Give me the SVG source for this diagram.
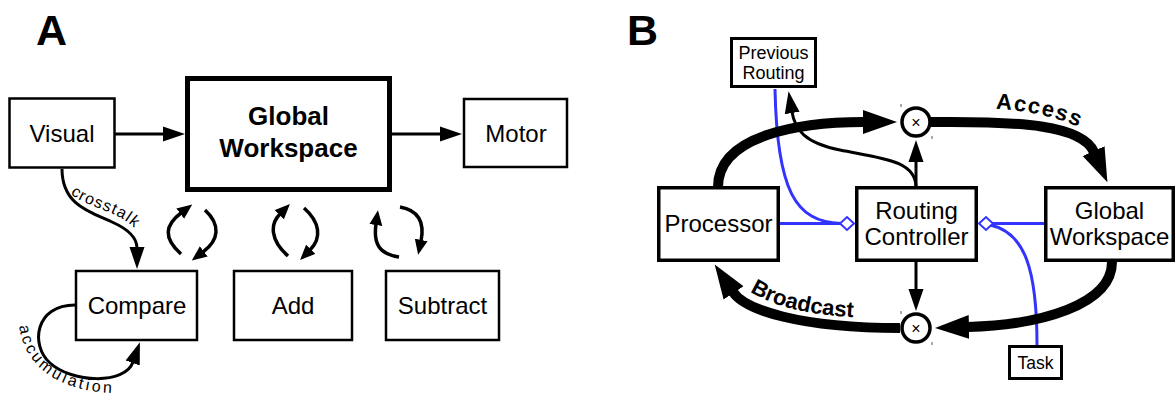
<svg xmlns="http://www.w3.org/2000/svg" width="1176" height="396" viewBox="0 0 1176 396">
  <style>
    .box { fill: #fff; stroke: #000; }
    .a-box { stroke-width: 2.5; }
    .b-box { stroke-width: 3.5; }
    .lbl { font-family: "Liberation Sans", Arial, sans-serif; fill: #000; text-anchor: middle; }
    .panel { font-family: "Liberation Sans", Arial, sans-serif; font-weight: bold; font-size: 43px; }
    .wire { fill: none; stroke: #000; stroke-width: 3; }
    .thick { fill: none; stroke: #000; stroke-width: 10; }
    .blue { fill: none; stroke: #3333ff; stroke-width: 3; }
    .diamond { fill: #fff; stroke: #3333ff; stroke-width: 2; }
    .junction { fill: #fff; stroke: #000; stroke-width: 3.5; }
    .tick { stroke: #555; stroke-width: 1; }
  </style>
  <defs>
    <marker id="big" markerUnits="userSpaceOnUse" markerWidth="36" markerHeight="26" viewBox="0 -13 36 26" refX="1" refY="0" orient="auto">
      <path d="M0,-12 L34,0 L0,12 z" fill="#000"/>
    </marker>
    <marker id="thin" markerUnits="userSpaceOnUse" markerWidth="24" markerHeight="18" viewBox="0 -9 24 18" refX="1" refY="0" orient="auto">
      <path d="M0,-7.5 L22,0 L0,7.5 z" fill="#000"/>
    </marker>
    <marker id="small" markerUnits="userSpaceOnUse" markerWidth="16" markerHeight="14" viewBox="0 -7 16 14" refX="1" refY="0" orient="auto">
      <path d="M0,-6.5 L15,0 L0,6.5 z" fill="#000"/>
    </marker>
    <path id="crosstalk-path" d="M68,192 C80,203 98,207 115,215 C128,221 136,228 144,240"/>
    <path id="accum-path" d="M19,324 C22,362 55,394 122,393 L140,393"/>
    <path id="access-path" d="M995,109 C1025,110 1062,117 1092,134"/>
    <path id="broadcast-path" d="M749,291 C775,308 815,316 866,318"/>
  </defs>

  <!-- panel letters -->
  <text class="panel" x="36" y="45">A</text>
  <text class="panel" x="627" y="45">B</text>

  <!-- ===== Panel A connectors ===== -->
  <g id="connectors-a">
    <path class="wire" d="M115,134 L164,134" marker-end="url(#thin)"/>
    <path class="wire" d="M392,134 L441,134" marker-end="url(#thin)"/>
    <!-- crosstalk -->
    <path class="wire" d="M62,169 C62,205 90,212 112,222 C130,230 137,238 137,248" marker-end="url(#thin)"/>
    <text class="lbl" style="font-size:16px; letter-spacing:1.2px; text-anchor:start"><textPath href="#crosstalk-path" startOffset="3">crosstalk</textPath></text>
    <!-- accumulation loop -->
    <path class="wire" d="M75,305 C35,305 30,345 50,363 C72,383 125,385 133,362" marker-end="url(#thin)"/>
    <text class="lbl" style="font-size:16px; letter-spacing:2.8px; text-anchor:start"><textPath href="#accum-path" startOffset="2">accumulation</textPath></text>
    <!-- exchange arrows between the workspace and the modules -->
    <path class="wire" style="stroke-width:3.5" d="M181,254 C163,238 165,225 181,213" marker-end="url(#small)"/>
    <path class="wire" style="stroke-width:3.5" d="M205,210 C221,225 219,240 203,252" marker-end="url(#small)"/>
    <path class="wire" style="stroke-width:3.5" d="M288,256 C270,240 270,224 280,214" marker-end="url(#small)"/>
    <path class="wire" style="stroke-width:3.5" d="M304,208 C320,222 322,238 310,250" marker-end="url(#small)"/>
    <path class="wire" style="stroke-width:3.5" d="M399,257 C380,254 373,245 376,224" marker-end="url(#small)"/>
    <path class="wire" style="stroke-width:3.5" d="M400,207 C418,210 425,222 421,241" marker-end="url(#small)"/>
  </g>

  <!-- ===== Panel A nodes ===== -->
  <g id="a-visual">
    <rect class="box a-box" x="9.5" y="98.5" width="105" height="69"/>
    <text class="lbl" x="62" y="142" font-size="24">Visual</text>
  </g>
  <g id="a-global-workspace">
    <rect class="box" style="stroke-width:5" x="187.5" y="78.5" width="202" height="111"/>
    <text class="lbl" x="288.5" y="125" font-size="26" font-weight="bold">Global</text>
    <text class="lbl" x="288.5" y="157" font-size="26" font-weight="bold">Workspace</text>
  </g>
  <g id="a-motor">
    <rect class="box a-box" x="464" y="99" width="103" height="68"/>
    <text class="lbl" x="516" y="142" font-size="24">Motor</text>
  </g>
  <g id="a-compare">
    <rect class="box a-box" x="76" y="271" width="121" height="69"/>
    <text class="lbl" x="137" y="314" font-size="24">Compare</text>
  </g>
  <g id="a-add">
    <rect class="box a-box" x="234" y="271" width="118" height="69"/>
    <text class="lbl" x="293" y="314" font-size="24">Add</text>
  </g>
  <g id="a-subtract">
    <rect class="box a-box" x="386" y="271" width="113" height="69"/>
    <text class="lbl" x="442.5" y="314" font-size="24">Subtract</text>
  </g>

  <!-- ===== Panel B connectors ===== -->
  <g id="connectors-b">
    <!-- gating links (blue) -->
    <path class="blue" d="M780,223.5 L841,223.5"/>
    <path class="blue" d="M775,89 C777,190 795,222 841,223.5"/>
    <path class="blue" d="M993,223.5 L1044,223.5"/>
    <path class="blue" d="M990,225 C1025,232 1037,270 1037,345"/>
    <!-- access / broadcast loop -->
    <path class="thick" d="M718,187 C718,135 800,122 864,122" marker-end="url(#big)"/>
    <path class="thick" d="M931,122 C1020,121 1082,125 1094,152" marker-end="url(#big)"/>
    <path class="thick" d="M1112,262 C1112,305 1040,325 968,327" marker-end="url(#big)"/>
    <path class="thick" d="M900,328 C800,328 745,310 733,292" marker-end="url(#big)"/>
    <text class="lbl" style="font-size:22px; font-weight:bold; letter-spacing:1.5px; text-anchor:start"><textPath href="#access-path" startOffset="1">Access</textPath></text>
    <text class="lbl" style="font-size:22px; font-weight:bold; text-anchor:start"><textPath href="#broadcast-path" startOffset="1">Broadcast</textPath></text>
    <!-- controller outputs -->
    <path class="wire" d="M916,187 L916,161" marker-end="url(#thin)"/>
    <path class="wire" d="M916,262 L916,290" marker-end="url(#thin)"/>
    <path class="wire" d="M916,187 C916,160 880,158 840,150 C805,143 795,130 792,112" marker-end="url(#thin)"/>
  </g>

  <!-- ===== Panel B nodes ===== -->
  <g id="b-previous-routing">
    <rect class="box" style="stroke-width:3" x="731.5" y="38.5" width="84" height="48"/>
    <text class="lbl" x="773.5" y="59" font-size="18">Previous</text>
    <text class="lbl" x="773.5" y="79" font-size="18">Routing</text>
  </g>
  <g id="b-processor">
    <rect class="box b-box" x="658.75" y="187.75" width="119.5" height="72.5"/>
    <text class="lbl" x="718.5" y="232" font-size="24">Processor</text>
  </g>
  <g id="b-routing-controller">
    <rect class="box b-box" x="856.75" y="187.75" width="119.5" height="72.5"/>
    <text class="lbl" x="916.5" y="219" font-size="24">Routing</text>
    <text class="lbl" x="916.5" y="245" font-size="24">Controller</text>
    <polygon class="diamond" points="840,223.5 847,217 854,223.5 847,230"/>
    <polygon class="diamond" points="979,223.5 986,217 993,223.5 986,230"/>
  </g>
  <g id="b-global-workspace">
    <rect class="box b-box" x="1045.75" y="187.75" width="127.5" height="72.5"/>
    <text class="lbl" x="1109.5" y="219" font-size="24">Global</text>
    <text class="lbl" x="1109.5" y="245" font-size="24">Workspace</text>
  </g>
  <g id="b-task">
    <rect class="box" style="stroke-width:3" x="1009.5" y="346.5" width="52" height="32"/>
    <text class="lbl" x="1035.5" y="369" font-size="17.5">Task</text>
  </g>
  <g id="b-gate-access">
    <circle class="junction" cx="916" cy="122" r="14"/>
    <text class="lbl" x="916" y="127.5" font-size="16">×</text>
    <line class="tick" x1="901" y1="104" x2="901" y2="107"/>
    <line class="tick" x1="932" y1="136" x2="932" y2="139"/>
  </g>
  <g id="b-gate-broadcast">
    <circle class="junction" cx="916" cy="328" r="14"/>
    <text class="lbl" x="916" y="333.5" font-size="16">×</text>
    <line class="tick" x1="901" y1="311" x2="901" y2="314"/>
    <line class="tick" x1="932" y1="342" x2="932" y2="345"/>
  </g>
</svg>
